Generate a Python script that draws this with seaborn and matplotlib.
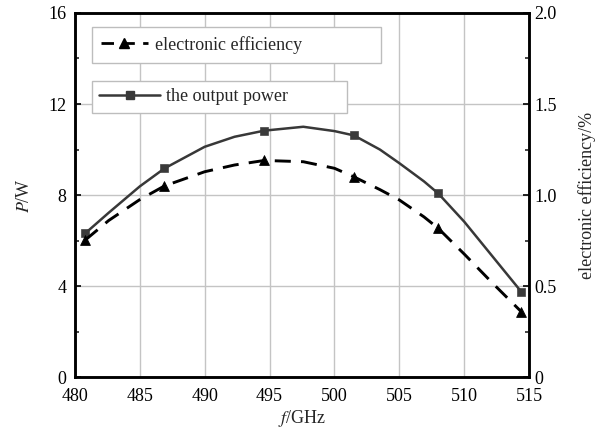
import seaborn as sns
import matplotlib
matplotlib.use('Agg')
import matplotlib.pyplot as plt
from matplotlib.lines import Line2D
from matplotlib.ticker import MultipleLocator
import pandas as pd

# measured points (markers)
freq_pts = [480.8, 486.9, 494.6, 501.5, 508.0, 514.4]
power_pts = [6.32, 9.17, 10.83, 10.62, 8.07, 3.75]
eff_pts = [0.753, 1.05, 1.19, 1.10, 0.817, 0.359]

# points
freq_curve = [480.8, 482.6, 485, 486.9, 490, 492.3, 494.6, 497.6, 500, 501.5,
              503.5, 505, 506.9, 508, 510, 512.2, 514.4]
power_curve = [6.32, 7.22, 8.38, 9.17, 10.12, 10.56, 10.83, 11.0, 10.81, 10.62,
               10.0, 9.4, 8.6, 8.07, 6.83, 5.29, 3.75]
eff_curve = [0.753, 0.86, 0.975, 1.05, 1.128, 1.165, 1.19, 1.183, 1.147, 1.10,
             1.03, 0.973, 0.88, 0.817, 0.676, 0.515, 0.359]

x_ticks = [480, 485, 490, 495, 500, 505, 510, 515]
p_ticks = [0, 4, 8, 12, 16]
eff_ticks = [0, 0.5, 1.0, 1.5, 2.0]
eff_tick_labels = ['0', '0.5', '1.0', '1.5', '2.0']

pts = pd.DataFrame({'f': freq_pts, 'P': power_pts, 'eff': eff_pts})
curve = pd.DataFrame({'f': freq_curve, 'P': power_curve, 'eff': eff_curve})

sns.set_theme(style='white')
plt.rcParams['font.family'] = ['Liberation Serif', 'DejaVu Serif']
plt.rcParams['mathtext.fontset'] = 'stix'
plt.rcParams['font.size'] = 13

fig, ax = plt.subplots(figsize=(6.04, 4.32), dpi=100)
fig.subplots_adjust(left=0.124, right=0.876, top=0.970, bottom=0.127)
ax2 = ax.twinx()

# power - solid line with squares
sns.lineplot(data=curve, x='f', y='P', ax=ax, color='#383838', lw=1.8,
             sort=False, zorder=3)
ax.lines[-1].set_solid_joinstyle('round')
sns.scatterplot(data=pts, x='f', y='P', ax=ax, marker='s', s=32,
                color='#3a3a3a', edgecolor='#3a3a3a', zorder=4)

# efficiency - dashed line with triangles
sns.lineplot(data=curve, x='f', y='eff', ax=ax2, color='black', lw=2.1,
             sort=False, zorder=3)
ax2.lines[-1].set_dashes((5.5, 3.5))
sns.scatterplot(data=pts, x='f', y='eff', ax=ax2, marker='^', s=50,
                color='black', edgecolor='black', zorder=4)

ax.set_xlim(480, 515)
ax.set_ylim(0, 16)
ax2.set_ylim(0, 2)
ax.set_xticks(x_ticks)
ax.set_yticks(p_ticks)
ax2.set_yticks(eff_ticks)
ax2.set_yticklabels(eff_tick_labels)
ax.yaxis.set_minor_locator(MultipleLocator(2))
ax2.yaxis.set_minor_locator(MultipleLocator(0.25))

ax.grid(True, which='major', color='#c4c4c4', lw=1.0)
ax.set_axisbelow(True)

for a in (ax, ax2):
    for sp in a.spines.values():
        sp.set_color('black')
        sp.set_linewidth(1.8)
    a.tick_params(direction='in', length=4, width=1.2, colors='black',
                  labelsize=13)
    a.tick_params(which='minor', direction='in', length=3, width=1.2)
ax.tick_params(axis='x', length=0, pad=8)
ax.tick_params(axis='y', pad=6)
ax2.tick_params(axis='y', pad=4)

ax.set_xlabel('$f$/GHz', fontsize=13, labelpad=2)
ax.set_ylabel('$P$/W', fontsize=13, labelpad=11)
ax2.set_ylabel('electronic efficiency/%', fontsize=13, labelpad=15)

# two separate legend boxes
h_eff = Line2D([], [], color='black', lw=2.0, dashes=(4.5, 3.0),
               marker='^', markersize=7)
h_pow = Line2D([], [], color='#383838', lw=1.8, marker='s', markersize=6)
leg1 = ax2.legend([h_eff], ['electronic efficiency'], loc='upper left',
                  bbox_to_anchor=(0.037, 0.862, 0.636, 0.1), mode='expand',
                  borderaxespad=0, fancybox=False, framealpha=1,
                  edgecolor='#bdbdbd', fontsize=13, handlelength=2.6,
                  handletextpad=0.4, borderpad=0.5)
ax2.add_artist(leg1)
leg2 = ax2.legend([h_pow], ['the output power'], loc='upper left',
                  bbox_to_anchor=(0.037, 0.72, 0.563, 0.093), mode='expand',
                  borderaxespad=0, fancybox=False, framealpha=1,
                  edgecolor='#bdbdbd', fontsize=13, handlelength=3.4,
                  handletextpad=0.3, borderpad=0.4)

fig.savefig('out.png', dpi=100)
